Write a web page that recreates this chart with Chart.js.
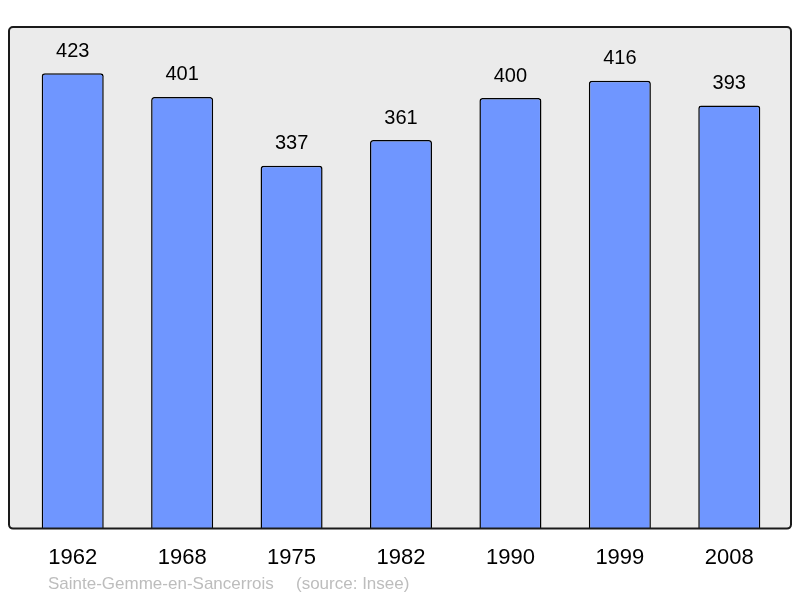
<!DOCTYPE html>
<html>
<head>
<meta charset="utf-8">
<script src="https://cdn.jsdelivr.net/npm/chart.js@4"></script>
<style>
  html, body { margin: 0; padding: 0; background: #fff; }
  #wrap { width: 800px; height: 598px; position: relative; }
</style>
</head>
<body>
<div id="wrap"><canvas id="pop-chart"></canvas></div>
<script>
// population by census year
const years  = ['1962', '1968', '1975', '1982', '1990', '1999', '2008'];
const people = [423, 401, 337, 361, 400, 416, 393];
const placeName = 'Sainte-Gemme-en-Sancerrois';
const sourceNote = '(source: Insee)';

// rounded grey frame behind the plot
const framePlugin = {
  id: 'frame',
  beforeDraw(chart) {
    const { ctx, chartArea } = chart;
    const x = 9, y = chartArea.top, w = 782, h = chartArea.bottom - chartArea.top;
    ctx.save();
    ctx.beginPath();
    ctx.roundRect(x, y, w, h, 4);
    ctx.fillStyle = '#ebebeb';
    ctx.fill();
    ctx.restore();
  },
  afterDraw(chart) {
    const { ctx, chartArea } = chart;
    const x = 9, y = chartArea.top, w = 782, h = chartArea.bottom - chartArea.top;
    ctx.save();
    ctx.beginPath();
    ctx.roundRect(x, y, w, h, 4);
    ctx.lineWidth = 2;
    ctx.strokeStyle = '#1a1a1a';
    ctx.stroke();
    // footer
    ctx.font = '17px "Liberation Sans", Arial, sans-serif';
    ctx.fillStyle = '#bdbdbd';
    ctx.textBaseline = 'middle';
    ctx.fillText(placeName, 48, 584);
    ctx.fillText(sourceNote, 296, 584);
    ctx.restore();
  }
};

// value labels above each bar
const valuePlugin = {
  id: 'values',
  afterDatasetsDraw(chart) {
    const { ctx } = chart;
    const meta = chart.getDatasetMeta(0);
    ctx.save();
    ctx.font = '20px "Liberation Sans", Arial, sans-serif';
    ctx.fillStyle = '#000';
    ctx.textAlign = 'center';
    ctx.textBaseline = 'middle';
    meta.data.forEach((bar, i) => {
      ctx.fillText(String(people[i]), bar.x, bar.y - 22);
    });
    ctx.restore();
  }
};

new Chart(document.getElementById('pop-chart'), {
  type: 'bar',
  data: {
    labels: years,
    datasets: [{
      data: people,
      backgroundColor: '#6f96ff',
      borderColor: '#000',
      borderWidth: 1.5,
      borderSkipped: 'bottom',
      borderRadius: { topLeft: 3, topRight: 3 },
      barPercentage: 0.567,
      categoryPercentage: 1.0,
    }]
  },
  options: {
    responsive: true, maintainAspectRatio: false,
    animation: false,
    layout: { padding: { left: 18, right: 16, top: 27, bottom: 19 } },
    plugins: {
      legend: { display: false },
      tooltip: { enabled: false }
    },
    scales: {
      x: {
        offset: true,
        grid: { display: false },
        border: { display: false },
        ticks: { color: '#000', padding: 8, font: { size: 22, family: '"Liberation Sans", Arial, sans-serif' } }
      },
      y: { display: false, min: 0, max: 466 }
    }
  },
  plugins: [framePlugin, valuePlugin]
});
</script>
</body>
</html>
